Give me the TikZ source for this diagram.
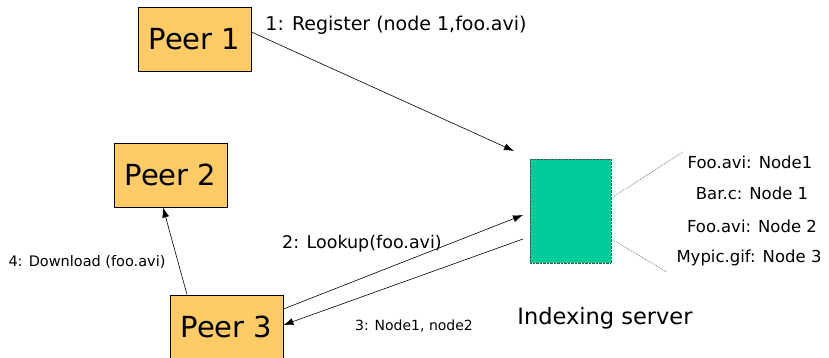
\documentclass[tikz,border=0pt]{standalone}
\usepackage{fontspec}
\setmainfont{DejaVu Sans}
\usetikzlibrary{arrows.meta}
\definecolor{peerfill}{HTML}{FECB66}
\definecolor{srvfill}{HTML}{00CC99}
\begin{document}
\begin{tikzpicture}[x=1pt,y=-1pt,
  peer/.style={draw=black,fill=peerfill,line width=0.8pt,minimum width=113pt,minimum height=64pt,inner sep=0pt,font=\fontsize{29}{32}\selectfont},
  lbl/.style={inner sep=0pt,font=\fontsize{16.5}{19}\selectfont},
  arr/.style={-{Latex[length=10pt,width=7pt]},line width=0.6pt},
  dots/.style={gray,densely dotted,line width=0.8pt}]
\useasboundingbox (0,0) rectangle (829,358);
\node[peer] (p1) at (194.5,39.5) {Peer 1};
\node[peer] (p2) at (170.5,175) {Peer 2};
\node[peer] (p3) at (226.5,327) {Peer 3};
\node[draw=black!70,densely dotted,fill=srvfill,minimum width=81pt,minimum height=104pt,inner sep=0pt] (srv) at (570.5,211) {};
\coordinate (t1) at (514,151);
\coordinate (t2) at (523,215);
\coordinate (s3) at (523,239);
\coordinate (d1) at (683,152);
\coordinate (d2) at (667,272);
\draw[arr] (p1.east |- 0,32) -- (t1);
\draw[arr] (p3.east |- 0,309) -- (t2);
\draw[arr] (s3) -- (p3.east |- 0,325);
\draw[arr] (p3.north -| 187,0) -- (p2.south -| 163,0);
\draw[dots] (srv.east |- 0,198) -- (d1);
\draw[dots] (srv.east |- 0,239) -- (d2);
\node[inner sep=0pt,font=\fontsize{19}{22}\selectfont] (l1) at (396,25) {1: Register (node 1,foo.avi)};
\node[inner sep=0pt,font=\fontsize{17.5}{20}\selectfont] (l2) at (362,244) {2: Lookup(foo.avi)};
\node[inner sep=0pt,font=\fontsize{14}{17}\selectfont] (l3) at (414,326) {3: Node1, node2};
\node[inner sep=0pt,font=\fontsize{14.5}{17}\selectfont] (l4) at (87,262) {4: Download (foo.avi)};
\node[lbl] (e1) at (750,162) {Foo.avi: Node1};
\node[lbl] (e2) at (752,193) {Bar.c: Node 1};
\node[lbl] (e3) at (752,226) {Foo.avi: Node 2};
\node[lbl] (e4) at (749,258) {Mypic.gif: Node 3};
\node[inner sep=0pt,font=\fontsize{22.5}{26}\selectfont] (srvlbl) at (605,318) {Indexing server};
\end{tikzpicture}
\end{document}
